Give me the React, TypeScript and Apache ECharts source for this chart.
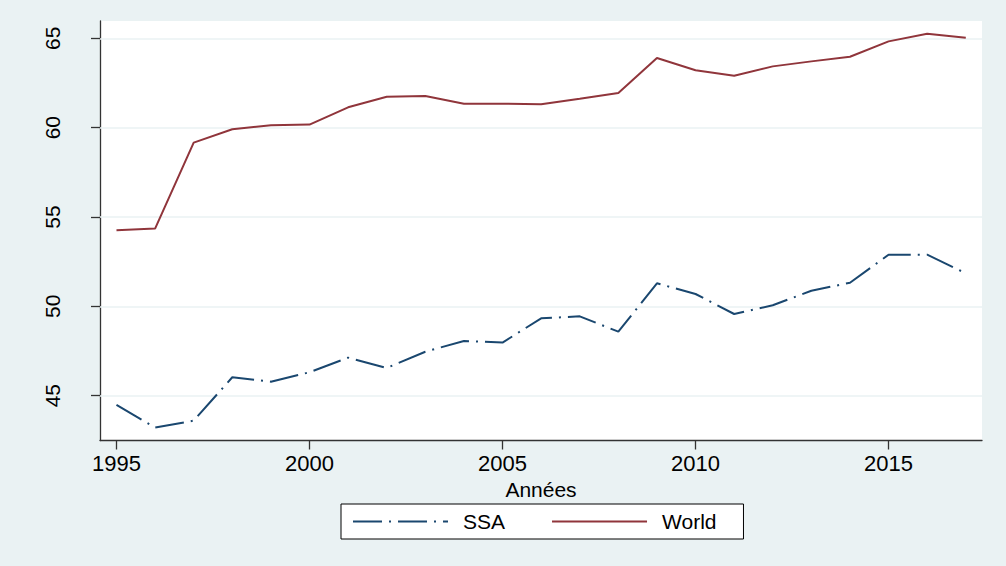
import React, { useEffect, useRef } from "react";
import * as echarts from "echarts";

const years = [1995, 1996, 1997, 1998, 1999, 2000, 2001, 2002, 2003, 2004, 2005, 2006, 2007, 2008, 2009, 2010, 2011, 2012, 2013, 2014, 2015, 2016, 2017];
const ssaValues = [44.48, 43.21, 43.6, 46.03, 45.78, 46.31, 47.13, 46.55, 47.46, 48.06, 47.97, 49.33, 49.44, 48.58, 51.29, 50.69, 49.57, 50.06, 50.87, 51.32, 52.89, 52.89, 51.85];
const worldValues = [54.26, 54.35, 59.16, 59.91, 60.13, 60.17, 61.14, 61.73, 61.77, 61.34, 61.34, 61.31, 61.62, 61.94, 63.9, 63.21, 62.91, 63.43, 63.71, 63.97, 64.83, 65.26, 65.03];
const xTicks = [1995, 2000, 2005, 2010, 2015];
const yTicks = [45, 50, 55, 60, 65];

const FONT = "Liberation Sans, Arial, sans-serif";

export default function App() {
  const ref = useRef<HTMLDivElement>(null);
  useEffect(() => {
    if (!ref.current) return;
    const chart = echarts.init(ref.current, null, { renderer: "svg" });
    chart.setOption({
      animation: false,
      backgroundColor: "#eaf2f3",
      textStyle: { fontFamily: FONT, color: "#000" },
      grid: {
        left: 100,
        right: 24,
        top: 21,
        bottom: 125.5,
        show: true,
        backgroundColor: "#ffffff",
        borderWidth: 0,
      },
      xAxis: {
        type: "value",
        min: 1994.573,
        max: 2017.42,
        name: "Années",
        nameLocation: "middle",
        nameGap: 25,
        nameTextStyle: { fontSize: 21, fontFamily: FONT, color: "#000" },
        axisLine: { show: true, lineStyle: { color: "#333", width: 1.3 } },
        axisTick: { show: true, customValues: xTicks, length: 9, lineStyle: { color: "#333", width: 1.3 } },
        axisLabel: {
          customValues: xTicks,
          formatter: (v: number) => String(v),
          fontSize: 22,
          fontFamily: FONT,
          color: "#000",
          margin: 12,
        },
        splitLine: { show: false },
      },
      yAxis: {
        type: "value",
        min: 42.49,
        max: 65.97,
        axisLine: { show: true, lineStyle: { color: "#333", width: 1.3 } },
        axisTick: { show: true, customValues: yTicks, length: 9, lineStyle: { color: "#333", width: 1.3 } },
        axisLabel: {
          customValues: yTicks,
          formatter: (v: number) => String(v),
          rotate: 90,
          fontSize: 21,
          fontFamily: FONT,
          color: "#000",
          margin: 37,
        },
        splitLine: { show: false },
      },
      legend: {
        left: 341,
        top: 504,
        orient: "horizontal",
        backgroundColor: "#ffffff",
        borderColor: "#000",
        borderWidth: 1,
        padding: [7, 27, 7, 11],
        itemWidth: 95,
        itemHeight: 14,
        itemGap: 46,
        itemStyle: { opacity: 0 },
        textStyle: { fontSize: 21, fontFamily: FONT, color: "#000", padding: [0, 0, 0, 10] },
        data: ["SSA", "World"],
      },
      series: [
        {
          name: "SSA",
          type: "line",
          data: years.map((y, i) => [y, ssaValues[i]]),
          symbol: "none",
          lineStyle: { color: "#1a476f", width: 2, type: [29, 7, 2, 7] },
          itemStyle: { color: "#1a476f" },
          markLine: {
            silent: true,
            symbol: "none",
            label: { show: false },
            lineStyle: { color: "#eaf2f3", width: 1.5, type: "solid" },
            data: yTicks.map((v) => ({ yAxis: v })),
            z: 1,
          },
          z: 3,
        },
        {
          name: "World",
          type: "line",
          data: years.map((y, i) => [y, worldValues[i]]),
          symbol: "none",
          lineStyle: { color: "#90353b", width: 2, type: "solid" },
          itemStyle: { color: "#90353b" },
          z: 3,
        },
      ],
    });
    return () => chart.dispose();
  }, []);
  return <div ref={ref} style={{ position: "fixed", left: 0, top: 0, width: 1006, height: 566 }} />;
}
